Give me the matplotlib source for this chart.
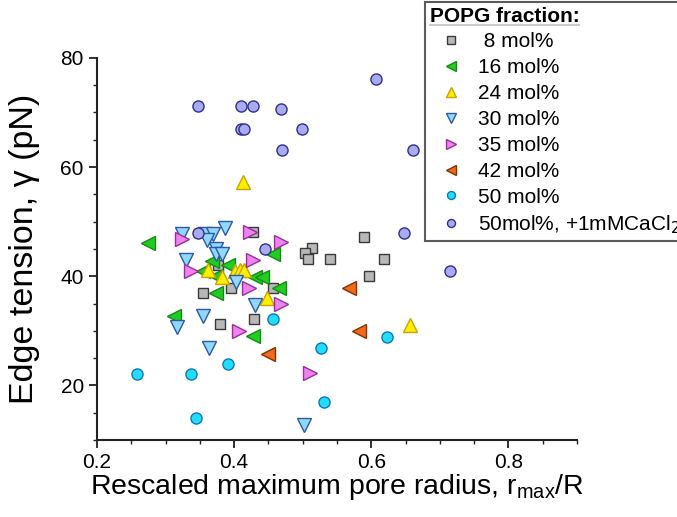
import matplotlib
matplotlib.use('Agg')
import matplotlib.pyplot as plt
from matplotlib.lines import Line2D
from matplotlib.ticker import MultipleLocator

plt.rcParams['font.family'] = ['Liberation Sans', 'DejaVu Sans']

# series: x = r_max/R, y = edge tension (pN)
x8 = [0.427, 0.376, 0.395, 0.457, 0.354, 0.379, 0.429, 0.513, 0.503, 0.507, 0.540, 0.589, 0.619, 0.596]
y8 = [48.1, 42.0, 37.9, 37.9, 37.0, 31.2, 32.1, 45.1, 44.2, 43.1, 43.1, 47.1, 43.1, 40.0]

x16 = [0.274, 0.456, 0.368, 0.391, 0.354, 0.374, 0.431, 0.441, 0.466, 0.374, 0.313, 0.427]
y16 = [46.0, 44.0, 42.8, 42.0, 41.0, 40.0, 39.9, 39.9, 37.9, 36.9, 32.8, 29.0]

x24 = [0.413, 0.362, 0.383, 0.401, 0.408, 0.415, 0.448, 0.656]
y24 = [57.3, 41.1, 39.9, 40.9, 41.2, 41.1, 36.1, 31.0]

x30 = [0.324, 0.358, 0.369, 0.360, 0.387, 0.373, 0.373, 0.383, 0.330, 0.403, 0.430, 0.355, 0.316, 0.363, 0.502]
y30 = [47.8, 47.7, 47.8, 46.7, 48.8, 44.9, 44.0, 44.0, 42.9, 39.0, 34.7, 32.7, 30.7, 26.8, 12.8]

x35 = [0.324, 0.423, 0.468, 0.427, 0.337, 0.422, 0.469, 0.407, 0.510]
y35 = [46.9, 48.1, 46.2, 42.9, 41.0, 37.9, 35.0, 29.9, 22.3]

x42 = [0.449, 0.568, 0.582]
y42 = [25.8, 37.9, 30.0]

x50 = [0.457, 0.391, 0.258, 0.337, 0.345, 0.623, 0.526, 0.531]
y50 = [32.1, 24.0, 22.0, 22.0, 14.0, 28.9, 26.9, 16.9]

x50ca = [0.347, 0.410, 0.427, 0.468, 0.410, 0.414, 0.470, 0.499, 0.607, 0.661, 0.648, 0.715, 0.348, 0.445]
y50ca = [71.1, 71.1, 71.1, 70.7, 67.0, 67.0, 63.1, 67.0, 76.1, 63.1, 48.0, 41.0, 48.0, 45.0]

labels = [' 8 mol%', '16 mol%', '24 mol%', '30 mol%', '35 mol%', '42 mol%', '50 mol%',
          '50mol%, +1mMCaCl$_2$']

series = [
    (x8, y8, 's', 7.5, '#b8b8b8', '#3a3a3a'),
    (x16, y16, '<', 10.5, '#22cc22', '#158a15'),
    (x24, y24, '^', 10.5, '#ffee00', '#c9a400'),
    (x30, y30, 'v', 10.5, '#92d8fa', '#2a5aa8'),
    (x35, y35, '>', 10.5, '#ee82ee', '#9a2f9a'),
    (x42, y42, '<', 10.5, '#ee6a1e', '#8a3000'),
    (x50, y50, 'o', 8, '#22ddff', '#0a7ab8'),
    (x50ca, y50ca, 'o', 8, '#aaaaee', '#303090'),
]

fig = plt.figure(figsize=(6.77, 5.17), dpi=100)
ax = fig.add_axes([0.1433, 0.149, 0.709, 0.739])

for (xs, ys, m, ms, fc, ec), lab in zip(series, labels):
    ax.plot(xs, ys, linestyle='none', marker=m, markersize=ms,
            markerfacecolor=fc, markeredgecolor=ec, markeredgewidth=1.0, label=lab)

ax.set_xlim(0.2, 0.9)
ax.set_ylim(10, 80)
ax.set_xticks([0.2, 0.4, 0.6, 0.8])
ax.set_yticks([20, 40, 60, 80])
ax.xaxis.set_minor_locator(MultipleLocator(0.05))
ax.yaxis.set_minor_locator(MultipleLocator(5))
ax.spines['top'].set_visible(False)
ax.spines['right'].set_visible(False)
for s in ['left', 'bottom']:
    ax.spines[s].set_linewidth(1.5)
    ax.spines[s].set_color('#222222')
ax.tick_params(which='major', direction='out', length=6, width=1.3, labelsize=15, color='#222222')
ax.tick_params(which='minor', direction='out', length=3, width=1.0, color='#222222')

ax.set_xlabel(r'Rescaled maximum pore radius, r$_{\mathregular{max}}$/R', fontsize=20.5)
ax.xaxis.set_label_coords(0.5, -0.085)
ax.set_ylabel('Edge tension, γ (pN)', fontsize=24.5)
ax.yaxis.set_label_coords(-0.118, 0.5)

leg = fig.legend(loc='upper left', bbox_to_anchor=(425 / 677, 1 - 2 / 517),
                 title='POPG fraction:', alignment='left', fontsize=15,
                 title_fontproperties={'weight': 'bold', 'size': 15},
                 frameon=True, fancybox=False, edgecolor='#333333',
                 handletextpad=0.2, labelspacing=0.33, borderpad=0.22,
                 handlelength=2.1, borderaxespad=0, markerscale=0.72)
leg.get_frame().set_linewidth(1.5)

fig.canvas.draw()
bb = leg.get_title().get_window_extent()
W, H = fig.bbox.width, fig.bbox.height
yline = (bb.y0 + 1) / H
fig.add_artist(Line2D([bb.x0 / W, bb.x1 / W], [yline, yline], color='black', linewidth=1.4))

fig.savefig('out.png', dpi=100)
